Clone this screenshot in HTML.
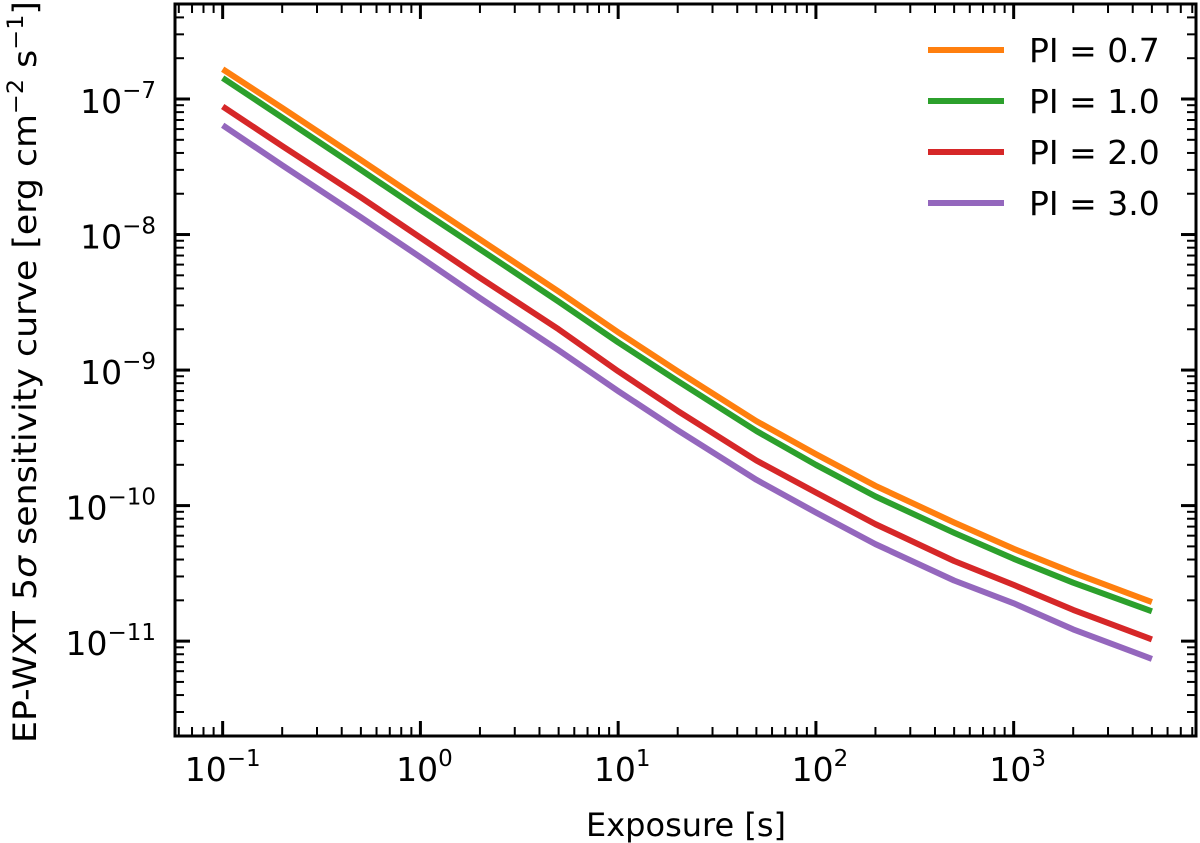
<!DOCTYPE html>
<html><head><meta charset="utf-8"><style>
html,body{margin:0;padding:0;background:#fff;}
svg{display:block;font-family:"DejaVu Sans","Liberation Sans",sans-serif;}
</style></head><body>
<svg id="chart" width="1200" height="843" viewBox="0 0 1200 843" xmlns="http://www.w3.org/2000/svg">
<g id="plot"></g>
<g id="axes"></g>
<text x="686" y="836" font-size="32" text-anchor="middle" fill="#000">Exposure [s]</text>
<text transform="translate(36,372) rotate(-90)" font-size="32" text-anchor="middle" textLength="742" lengthAdjust="spacingAndGlyphs" fill="#000">EP-WXT 5<tspan font-style="italic">σ</tspan> sensitivity curve [erg cm<tspan dy="-13" font-size="22">−2</tspan><tspan dy="13"> s</tspan><tspan dy="-13" font-size="22">−1</tspan><tspan dy="13">]</tspan></text>
<g id="legend"></g>
</svg>
<script>
const exposures = [0.1,0.2,0.5,1,2,5,10,20,50,100,200,500,1000,2000,5000];
const seriesLabels = ["PI = 0.7","PI = 1.0","PI = 2.0","PI = 3.0"];
const seriesColors = ["#ff7f0e","#2ca02c","#d62728","#9467bd"];
const pi07 = [1.66e-7,8.6e-8,3.55e-8,1.8e-8,9.2e-9,3.8e-9,1.9e-9,9.8e-10,4.2e-10,2.4e-10,1.4e-10,7.5e-11,4.8e-11,3.2e-11,1.94e-11];
const pi10 = [1.43e-7,7.3e-8,3.0e-8,1.52e-8,7.8e-9,3.2e-9,1.6e-9,8.3e-10,3.55e-10,2.0e-10,1.17e-10,6.3e-11,4.05e-11,2.7e-11,1.66e-11];
const pi20 = [8.8e-8,4.5e-8,1.88e-8,9.5e-9,4.8e-9,2.0e-9,9.8e-10,5.0e-10,2.15e-10,1.25e-10,7.3e-11,3.9e-11,2.6e-11,1.7e-11,1.03e-11];
const pi30 = [6.4e-8,3.25e-8,1.34e-8,6.8e-9,3.4e-9,1.4e-9,7.0e-10,3.6e-10,1.55e-10,8.9e-11,5.2e-11,2.8e-11,1.9e-11,1.22e-11,7.4e-12];
const xTickExps = [-1,0,1,2,3];
const yTickExps = [-7,-8,-9,-10,-11];
const NS="http://www.w3.org/2000/svg";
const L=175,R=1196,T=4,B=736;
const xMin=-1.241,xMax=3.922,yMin=-11.70,yMax=-6.299;
function sx(v){return L+(Math.log10(v)-xMin)/(xMax-xMin)*(R-L);}
function sy(v){return B-(Math.log10(v)-yMin)/(yMax-yMin)*(B-T);}
function mk(tag,attrs,parent){const e=document.createElementNS(NS,tag);for(const k in attrs)e.setAttribute(k,attrs[k]);parent.appendChild(e);return e;}
const plot=document.getElementById('plot'),axes=document.getElementById('axes'),legend=document.getElementById('legend');
[pi07,pi10,pi20,pi30].forEach((s,i)=>{
  const d=s.map((v,j)=>(j?'L':'M')+sx(exposures[j]).toFixed(1)+','+sy(v).toFixed(1)).join(' ');
  const p=mk('path',{d:d,fill:'none',stroke:seriesColors[i],'stroke-width':6,'stroke-linejoin':'round'},plot);
  
  
});
const fr=mk('rect',{x:L,y:T,width:R-L,height:B-T,fill:'none',stroke:'#000','stroke-width':3},axes);


for(let e=-2;e<=4;e++){for(let m=1;m<10;m++){const v=m*Math.pow(10,e);const lv=Math.log10(v);if(lv<xMin||lv>xMax)continue;const x=sx(v);const len=m===1?15:9;
  mk('line',{x1:x,y1:B,x2:x,y2:B-len,stroke:'#000','stroke-width':m===1?3:2},axes);
  mk('line',{x1:x,y1:T,x2:x,y2:T+len,stroke:'#000','stroke-width':m===1?3:2},axes);}}
for(let e=-12;e<=-6;e++){for(let m=1;m<10;m++){const v=m*Math.pow(10,e);const lv=Math.log10(v);if(lv<yMin||lv>yMax)continue;const y=sy(v);const len=m===1?15:9;
  mk('line',{x1:L,y1:y,x2:L+len,y2:y,stroke:'#000','stroke-width':m===1?3:2},axes);
  mk('line',{x1:R,y1:y,x2:R-len,y2:y,stroke:'#000','stroke-width':m===1?3:2},axes);}}
xTickExps.forEach(e=>{const t=mk('text',{x:sx(Math.pow(10,e))+(e<0?0:4),y:781,'font-size':33,'text-anchor':'middle',fill:'#000'},axes);
  
  
  t.innerHTML='10<tspan dy="-15" font-size="23">'+(e<0?'−'+(-e):e)+'</tspan>';});
yTickExps.forEach(e=>{const t=mk('text',{x:156,y:sy(Math.pow(10,e))+14,'font-size':33,'text-anchor':'end',fill:'#000'},axes);
  
  
  t.innerHTML='10<tspan dy="-15" font-size="23">−'+(-e)+'</tspan>';});
seriesLabels.forEach((lab,i)=>{const y=50+i*51;
  const ln=mk('line',{x1:928,y1:y,x2:1004,y2:y,stroke:seriesColors[i],'stroke-width':6},legend);
  
  
  const t=mk('text',{x:1029,y:y+12,'font-size':33,fill:'#000'},legend);
  
  
  t.textContent=lab;});
</script>
</body></html>
